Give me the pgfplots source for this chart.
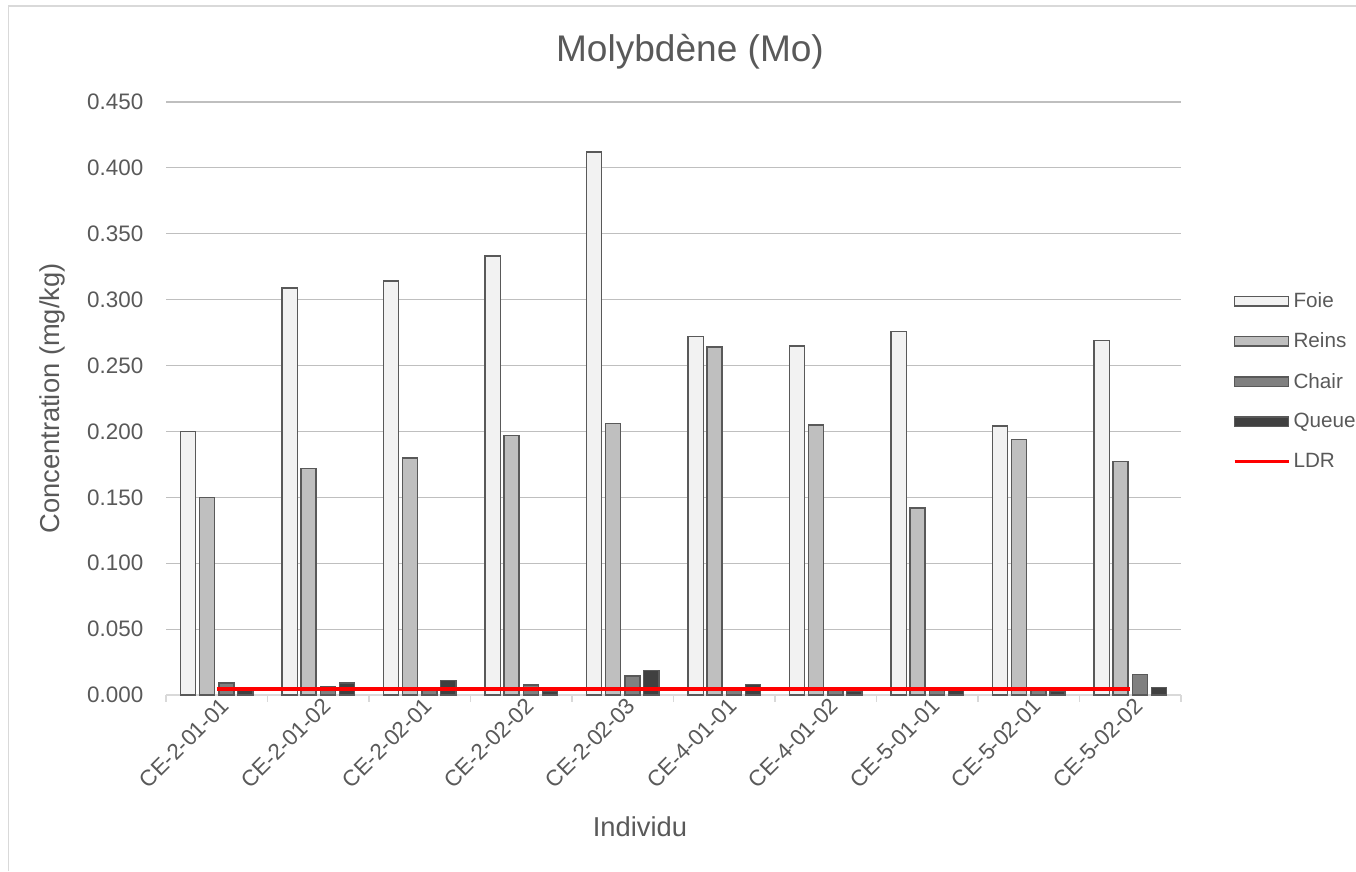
\documentclass[border=0pt]{standalone}
\usepackage{pgfplots}
\pgfplotsset{compat=1.18}
\usepackage{fontspec}
\setmainfont{Liberation Sans}
\definecolor{txt}{HTML}{595959}
\definecolor{grid}{HTML}{D9D9D9}
\definecolor{edge}{HTML}{595959}
\definecolor{foie}{HTML}{F2F2F2}
\definecolor{reins}{HTML}{BFBFBF}
\definecolor{chair}{HTML}{808080}
\definecolor{queue}{HTML}{404040}
\pgfplotsset{
  barleg/.style={legend image code/.code={\draw[fill=#1, draw=edge, line width=1.1pt] (0pt,-3.6pt) rectangle (40.5pt,3.6pt);}},
  lineleg/.style={legend image code/.code={\draw[red, line width=2.4pt] (0pt,0pt) -- (40.5pt,0pt);}},
}
\begin{document}
\begin{tikzpicture}
\useasboundingbox (0,0) rectangle (1017pt,-653.25pt);
\draw[grid, line width=1.2pt] (6.5pt,-653.25pt) -- (6.5pt,-4.5pt) -- (1017pt,-4.5pt);
\node[txt, font=\fontsize{27.8}{32}\selectfont] at (517.5pt,-39pt) {Molybdène (Mo)};
\begin{axis}[
  at={(124.5pt,-521.25pt)}, anchor=south west,
  scale only axis, width=761.25pt, height=444.75pt,
  xmin=-0.5, xmax=9.5, ymin=0, ymax=0.45,
  axis line style={draw=none},
  xtick pos=lower, ytick pos=left,
  ytick={0,0.05,...,0.451},
  ymajorgrids, xmajorgrids=false, grid style={grid, line width=0.8pt},
  major tick length=0pt,
  yticklabel style={xshift=-13.5pt, /pgf/number format/fixed, /pgf/number format/fixed zerofill, /pgf/number format/precision=3, /pgf/number format/assume math mode=true},
  ticklabel style={txt, font=\fontsize{16.8}{20}\selectfont},
  xtick={0,...,9},
  xticklabels={CE-2-01-01,CE-2-01-02,CE-2-02-01,CE-2-02-02,CE-2-02-03,CE-4-01-01,CE-4-01-02,CE-5-01-01,CE-5-02-01,CE-5-02-02},
  xticklabel style={rotate=45, anchor=north east, inner sep=2pt, xshift=3pt},
  extra x ticks={-0.5,0.5,...,9.5},
  extra x tick labels={},
  extra x tick style={grid=none, xtick pos=lower, major tick length=5pt, tick style={grid, line width=0.8pt}, tick align=outside},
  ylabel={Concentration (mg/kg)},
  ylabel style={txt, font=\fontsize{20.5}{24}\selectfont, at={(axis description cs:-0.112,0.5)}, anchor=center},
  xlabel={Individu},
  xlabel style={txt, font=\fontsize{20.5}{24}\selectfont, at={(axis description cs:0.467,-0.222)}, anchor=center},
  legend style={at={(1.051,0.5295)}, anchor=west, draw=none, fill=none, font=\fontsize{15.5}{18}\selectfont, text=txt, row sep=12.5pt, inner sep=0pt,
    nodes={inner sep=2.5pt}},
  legend cell align=left,
  bar width=0.148,
]
\draw[grid, line width=0.8pt] (axis cs:-0.5,0) -- (axis cs:9.5,0);
\addplot[ybar, bar shift=-0.281, fill=foie, draw=edge, line width=1.1pt, barleg=foie]
  coordinates {(0,0.200) (1,0.309) (2,0.314) (3,0.333) (4,0.412) (5,0.272) (6,0.265) (7,0.276) (8,0.204) (9,0.269)};
\addlegendentry{Foie}
\addplot[ybar, bar shift=-0.094, fill=reins, draw=edge, line width=1.1pt, barleg=reins]
  coordinates {(0,0.150) (1,0.172) (2,0.180) (3,0.197) (4,0.206) (5,0.264) (6,0.205) (7,0.142) (8,0.194) (9,0.177)};
\addlegendentry{Reins}
\addplot[ybar, bar shift=0.094, fill=chair, draw=edge, line width=1.1pt, barleg=chair]
  coordinates {(0,0.009) (1,0.006) (2,0.005) (3,0.0075) (4,0.0145) (5,0.004) (6,0.004) (7,0.004) (8,0.004) (9,0.0155)};
\addlegendentry{Chair}
\addplot[ybar, bar shift=0.281, fill=queue, draw=edge, line width=1.1pt, barleg=queue]
  coordinates {(0,0.004) (1,0.009) (2,0.011) (3,0.003) (4,0.0185) (5,0.0078) (6,0.003) (7,0.004) (8,0.003) (9,0.0055)};
\addlegendentry{Queue}
\addplot[red, line width=3pt, mark=none, lineleg]
  coordinates {(0,0.0048) (1,0.0048) (2,0.0048) (3,0.0048) (4,0.0048) (5,0.0048) (6,0.0048) (7,0.0048) (8,0.0048) (9,0.0048)};
\addlegendentry{LDR}
\end{axis}
\end{tikzpicture}
\end{document}
